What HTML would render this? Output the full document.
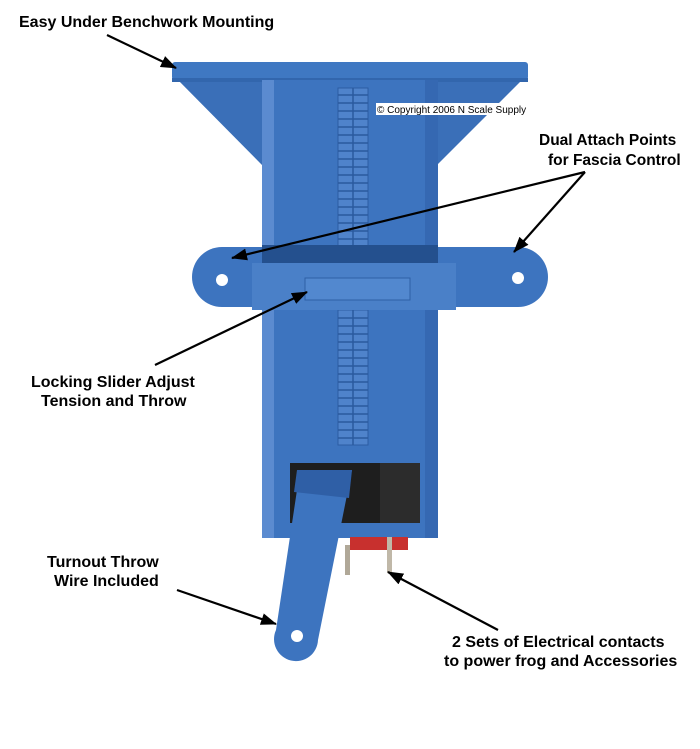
<!DOCTYPE html>
<html><head><style>
html,body{margin:0;padding:0;background:#fff;}
svg{display:block}
text{font-family:"Liberation Sans",Arial,sans-serif;font-size:15px;fill:#000;}
</style></head><body>
<svg width="700" height="749" viewBox="0 0 700 749">
<defs>
<marker id="a" markerWidth="16" markerHeight="12" refX="15" refY="6" orient="auto" markerUnits="userSpaceOnUse"><path d="M0,0 L16,6 L0,12 z" fill="#000"/></marker>
</defs>
<polygon points="176,78 270,78 270,165 262,165" fill="#3a6fb8"/>
<polygon points="430,78 524,78 437,165 430,165" fill="#3a6fb8"/>
<rect x="172" y="62" width="356" height="18" rx="3" fill="#3f78c2"/>
<rect x="172" y="78" width="356" height="4" fill="#3266ad"/>
<rect x="262" y="80" width="176" height="458" fill="#3d74bf"/>
<rect x="262" y="80" width="12" height="458" fill="#5b8bd0"/>
<rect x="425" y="80" width="13" height="458" fill="#3568b2"/>
<g fill="#4f83cb" stroke="#2c5da3" stroke-width="1">
<rect x="338" y="88" width="30" height="160"/>
<rect x="338" y="310" width="30" height="135"/>
</g>
<g stroke="#2a5a9e" stroke-width="1.5">
<path d="M338,95H368M338,103H368M338,111H368M338,119H368M338,127H368M338,135H368M338,143H368M338,151H368M338,159H368M338,167H368M338,175H368M338,183H368M338,191H368M338,199H368M338,207H368M338,215H368M338,223H368M338,231H368M338,239H368"/>
<path d="M338,318H368M338,326H368M338,334H368M338,342H368M338,350H368M338,358H368M338,366H368M338,374H368M338,382H368M338,390H368M338,398H368M338,406H368M338,414H368M338,422H368M338,430H368M338,438H368"/>
<path d="M353,88V248M353,310V445"/>
</g>
<rect x="192" y="247" width="356" height="60" rx="30" fill="#3d74bf"/>
<circle cx="222" cy="280" r="6" fill="#fff"/>
<circle cx="518" cy="278" r="6" fill="#fff"/>
<rect x="262" y="245" width="176" height="20" fill="#24508e"/>
<rect x="252" y="263" width="204" height="47" fill="#4a80c8"/>
<rect x="305" y="278" width="105" height="22" fill="#5288cf" stroke="#2e5fa6"/>
<rect x="290" y="463" width="130" height="60" fill="#1e1e1e"/>
<rect x="380" y="463" width="40" height="60" fill="#2c2c2c"/>
<rect x="350" y="537" width="58" height="13" fill="#c8302e"/>
<rect x="345" y="545" width="5" height="30" fill="#b0a898"/>
<rect x="387" y="537" width="5" height="36" fill="#c0b8a8"/>
<path d="M300,470 L352,470 L318,640 A22,22 0 1 1 276,630 Z" fill="#3d74bf"/>
<path d="M297,470 L352,470 L349,498 L294,492 Z" fill="#2f5fa6"/>
<circle cx="297" cy="636" r="6" fill="#fff"/>
<rect x="376" y="103" width="162" height="12" fill="#fff"/>
<text x="377" y="113" style="font-size:10px">© Copyright 2006 N Scale Supply</text>
<text x="19" y="27" font-weight="bold" style="font-size:16px">Easy Under Benchwork Mounting</text>
<text x="539" y="145" font-weight="bold" style="font-size:15.5px">Dual Attach Points</text>
<text x="548" y="165" font-weight="bold" style="font-size:15.5px">for Fascia Control</text>
<text x="31" y="387" font-weight="bold" style="font-size:16px">Locking Slider Adjust</text>
<text x="41" y="406" font-weight="bold" style="font-size:16px">Tension and Throw</text>
<text x="47" y="567" font-weight="bold" style="font-size:16px">Turnout Throw</text>
<text x="54" y="586" font-weight="bold" style="font-size:16px">Wire Included</text>
<text x="452" y="647" font-weight="bold" style="font-size:16px">2 Sets of Electrical contacts</text>
<text x="444" y="666" font-weight="bold" style="font-size:16px">to power frog and Accessories</text>
<g stroke="#000" stroke-width="2.2" fill="none">
<line x1="107" y1="35" x2="176" y2="68" marker-end="url(#a)"/>
<line x1="585" y1="172" x2="232" y2="258" marker-end="url(#a)"/>
<line x1="585" y1="172" x2="514" y2="252" marker-end="url(#a)"/>
<line x1="155" y1="365" x2="307" y2="292" marker-end="url(#a)"/>
<line x1="177" y1="590" x2="276" y2="624" marker-end="url(#a)"/>
<line x1="498" y1="630" x2="388" y2="572" marker-end="url(#a)"/>
</g>
</svg>
</body></html>
